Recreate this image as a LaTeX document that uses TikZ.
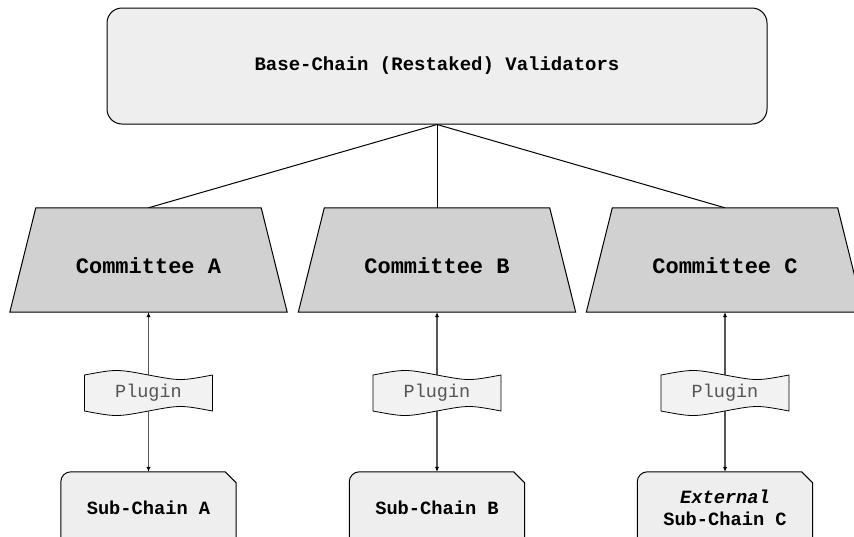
\documentclass[tikz,border=0pt]{standalone}
\usepackage{fontspec}
\newfontfamily\mono{Liberation Mono}
\usetikzlibrary{arrows.meta,calc}
\pgfdeclarelayer{back}
\pgfdeclarelayer{shapes}
\pgfsetlayers{back,shapes,main}
\definecolor{boxfill}{HTML}{EEEEEE}
\definecolor{comfill}{HTML}{D1D1D1}
\definecolor{tapefill}{HTML}{F2F2F2}
\definecolor{linegray}{HTML}{555555}
\begin{document}
\begin{tikzpicture}[x=1pt,y=-1pt,
  topbox/.style={draw=black, fill=boxfill, rounded corners=15pt, minimum width=660pt, minimum height=116pt, inner sep=0pt, font=\mono\bfseries\fontsize{19}{22}\selectfont, line width=1pt},
  comnode/.style={minimum width=277pt, minimum height=104pt, inner sep=0pt},
  comtext/.style={inner sep=0pt, font=\mono\bfseries\fontsize{22}{26}\selectfont},
  comshape/.style={draw=black, fill=comfill, line width=1pt},
  subnode/.style={minimum width=175pt, minimum height=72pt, inner sep=0pt, align=center, font=\mono\bfseries\fontsize{18.7}{22}\selectfont},
  subshape/.style={draw=black, fill=boxfill, line width=1pt},
  plugnode/.style={minimum width=128pt, minimum height=36pt, inner sep=0pt, text=linegray, font=\mono\fontsize{18.5}{22}\selectfont},
  plugshape/.style={draw=black, fill=tapefill, line width=0.8pt},
  link/.style={draw=black, line width=1pt},
  biarrow/.style={draw=linegray, line width=1.5pt, {Latex[black,length=5pt,width=4.5pt]}-{Latex[black,length=5pt,width=4.5pt]}},
]
\useasboundingbox (0,0) rectangle (854,536);

% top box
\node[topbox] (base) at (437,66) {Base-Chain (Restaked) Validators};

% committees
\node[comnode] (cA) at (148.5,260) {};
\node[comnode] (cB) at (437,260) {};
\node[comnode] (cC) at (725,260) {};
\node[comtext] (tA) at ($(cA.center)+(0,6)$) {Committee A};
\node[comtext] (tB) at ($(cB.center)+(0,6)$) {Committee B};
\node[comtext] (tC) at ($(cC.center)+(0,6)$) {Committee C};

% sub-chains
\node[subnode] (sA) at (148.5,508) {Sub-Chain A};
\node[subnode] (sB) at (437,508) {Sub-Chain B};
\node[subnode] (sC) at (725,508) {\textit{External}\\Sub-Chain C};

% plugins
\node[plugnode] (pA) at (148.5,393) {Plugin};
\node[plugnode] (pB) at (437,393) {Plugin};
\node[plugnode] (pC) at (725,393) {Plugin};

\begin{pgfonlayer}{shapes}
  \foreach \n in {cA,cB,cC}{
    \draw[comshape] (\n.south west) -- (\n.south east) -- ([xshift=-26pt]\n.north east) -- ([xshift=26pt]\n.north west) -- cycle;
  }
  \foreach \n in {sA,sB,sC}{
    \draw[subshape] (\n.south east) -- (\n.south west) -- ([yshift=-10pt]\n.north west) arc[start angle=180,end angle=90,radius=10pt] -- ([xshift=-11pt]\n.north east) -- ([yshift=-11pt]\n.north east) -- cycle;
  }
  \foreach \n in {pA,pB,pC}{
    \draw[plugshape,shift={(\n.center)}] (-64,-18) .. controls (-32,-24) .. (0,-18) .. controls (32,-12) .. (64,-18) -- (64,18) .. controls (32,12) .. (0,18) .. controls (-32,24) .. (-64,18) -- cycle;
  }
\end{pgfonlayer}

\begin{pgfonlayer}{back}
  \draw[link] (base.south) -- (cA.north);
  \draw[link] (base.south) -- (cB.north);
  \draw[link] (base.south) -- (cC.north);
  \draw[biarrow] (cA.south) -- (sA.north);
  \draw[biarrow] (cB.south) -- (sB.north);
  \draw[biarrow] (cC.south) -- (sC.north);
\end{pgfonlayer}
\end{tikzpicture}
\end{document}
